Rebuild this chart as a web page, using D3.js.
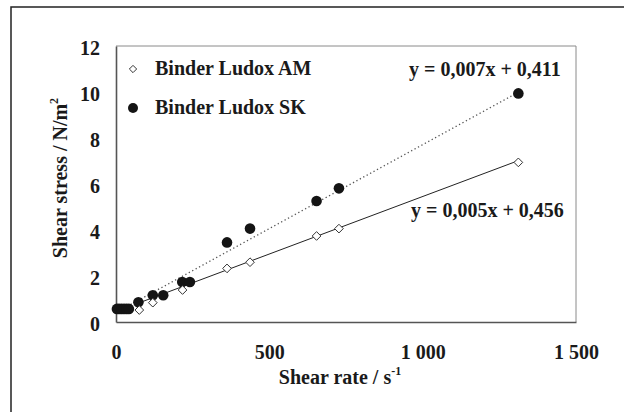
<!DOCTYPE html>
<html>
<head>
<meta charset="utf-8">
<script src="https://cdn.jsdelivr.net/npm/d3@7"></script>
<style>
  html, body { margin: 0; padding: 0; background: #fff; }
  svg { display: block; }
  text { font-family: "Liberation Serif", "Times New Roman", serif; font-weight: bold; fill: #1a1a1a; }
</style>
</head>
<body>
<svg id="chart" width="624" height="412"></svg>
<script>
// Shear rate (1/s) and shear stress (N/m²) for the two binders
const seriesNames = ["Binder Ludox AM", "Binder Ludox SK"];
const amRate   = [76, 120, 217, 362, 437, 654, 727, 1312];
const amStress = [0.52, 0.84, 1.39, 2.33, 2.60, 3.74, 4.06, 6.94];
const skRate   = [3, 10, 18, 26, 34, 42, 73, 120, 154, 216, 241, 362, 437, 654, 727, 1312];
const skStress = [0.57, 0.57, 0.57, 0.57, 0.57, 0.57, 0.86, 1.16, 1.16, 1.74, 1.74, 3.46, 4.06, 5.26, 5.81, 9.94];

// Linear trend lines y = slope·x + intercept (AM, SK)
const fitSlopes     = [0.005, 0.0073];
const fitIntercepts = [0.456, 0.411];

const xTicks = [0, 500, 1000, 1500];
const yTicks = [0, 2, 4, 6, 8, 10, 12];

const locale = d3.formatLocale({ decimal: ",", thousands: " ", grouping: [3], currency: ["", ""] });
const fmtThousands = locale.format(",d");
const fmtCoef = locale.format(".3f");

const svg = d3.select("#chart");
const plot = { left: 116, top: 46, right: 576, bottom: 322 };

const x = d3.scaleLinear().domain([0, 1500]).range([plot.left, plot.right]);
const y = d3.scaleLinear().domain([0, 12]).range([plot.bottom, plot.top]);

// Outer frame
svg.append("path")
  .attr("d", "M11,412 V7 H624")
  .attr("fill", "none").attr("stroke", "#222").attr("stroke-width", 1.5);

// Plot area border: light top/right, darker axis lines
svg.append("path")
  .attr("d", `M${plot.left},${plot.top} H${plot.right} V${plot.bottom}`)
  .attr("fill", "none").attr("stroke", "#8a8a8a").attr("stroke-width", 1);

const xAxis = d3.axisBottom(x).tickValues(xTicks).tickSize(0).tickFormat(fmtThousands);
const gx = svg.append("g").attr("transform", `translate(0,${plot.bottom})`).call(xAxis);
gx.select(".domain").attr("stroke", "#555").attr("stroke-width", 1.6);
gx.selectAll("text").attr("font-size", 20).attr("dy", null).attr("y", 37).attr("fill", "#1a1a1a");

const yAxis = d3.axisLeft(y).tickValues(yTicks).tickSize(0).tickFormat(d3.format("d"));
const gy = svg.append("g").attr("transform", `translate(${plot.left},0)`).call(yAxis);
gy.select(".domain").attr("stroke", "#555").attr("stroke-width", 1.6);
gy.selectAll("text").attr("font-size", 20).attr("dy", "0.4em").attr("x", -16).attr("fill", "#1a1a1a");
gy.selectAll("g.tick").filter(d => d === 12).select("text").attr("dy", "0.4em");

// Axis titles
const xt = svg.append("text").attr("x", 340).attr("y", 384).attr("text-anchor", "middle").attr("font-size", 20);
xt.append("tspan").text("Shear rate / s");
xt.append("tspan").attr("font-size", 12).attr("dy", -9).text("-1");

const yt = svg.append("text")
  .attr("transform", "translate(67,178) rotate(-90)")
  .attr("text-anchor", "middle").attr("font-size", 20);
yt.append("tspan").text("Shear stress / N/m");
yt.append("tspan").attr("font-size", 12).attr("dy", -9).text("2");

// Trend lines across each series' data range
const rates = [amRate, skRate];
const lineStyles = [
  { stroke: "#222", width: 1, dash: null },
  { stroke: "#555", width: 1.3, dash: "1.3,2.6" }
];
rates.forEach((r, i) => {
  const [x0, x1] = d3.extent(r);
  svg.append("line")
    .attr("x1", x(x0)).attr("y1", y(fitSlopes[i] * x0 + fitIntercepts[i]))
    .attr("x2", x(x1)).attr("y2", y(fitSlopes[i] * x1 + fitIntercepts[i]))
    .attr("stroke", lineStyles[i].stroke)
    .attr("stroke-width", lineStyles[i].width)
    .attr("stroke-dasharray", lineStyles[i].dash);
});

const diamond = d3.symbol().type(d3.symbolDiamond2);
const skData = skRate.map((r, i) => [r, skStress[i]]);
const amData = amRate.map((r, i) => [r, amStress[i]]);

// SK: filled circles
svg.append("g").selectAll("circle").data(skData).join("circle")
  .attr("cx", d => x(d[0])).attr("cy", d => y(d[1])).attr("r", 5.3)
  .attr("fill", "#141414");

// AM: open diamonds
svg.append("g").selectAll("path").data(amData).join("path")
  .attr("d", diamond.size(48)())
  .attr("transform", d => `translate(${x(d[0])},${y(d[1])})`)
  .attr("fill", "#fff").attr("stroke", "#333").attr("stroke-width", 1);

// Legend
const legend = svg.append("g");
legend.append("path").attr("d", diamond.size(34)()).attr("transform", "translate(133,69)")
  .attr("fill", "#fff").attr("stroke", "#333").attr("stroke-width", 1);
legend.append("circle").attr("cx", 133).attr("cy", 108).attr("r", 5).attr("fill", "#141414");
legend.append("text").attr("x", 155).attr("y", 75).attr("font-size", 20).text(seriesNames[0]);
legend.append("text").attr("x", 155).attr("y", 114).attr("font-size", 20).text(seriesNames[1]);

// Trend line equations
const eq = i => `y = ${fmtCoef(fitSlopes[i])}x + ${fmtCoef(fitIntercepts[i])}`;
svg.append("text").attr("x", 409).attr("y", 76).attr("font-size", 20).text(eq(1));
svg.append("text").attr("x", 411).attr("y", 217).attr("font-size", 20).text(eq(0));
</script>
</body>
</html>
